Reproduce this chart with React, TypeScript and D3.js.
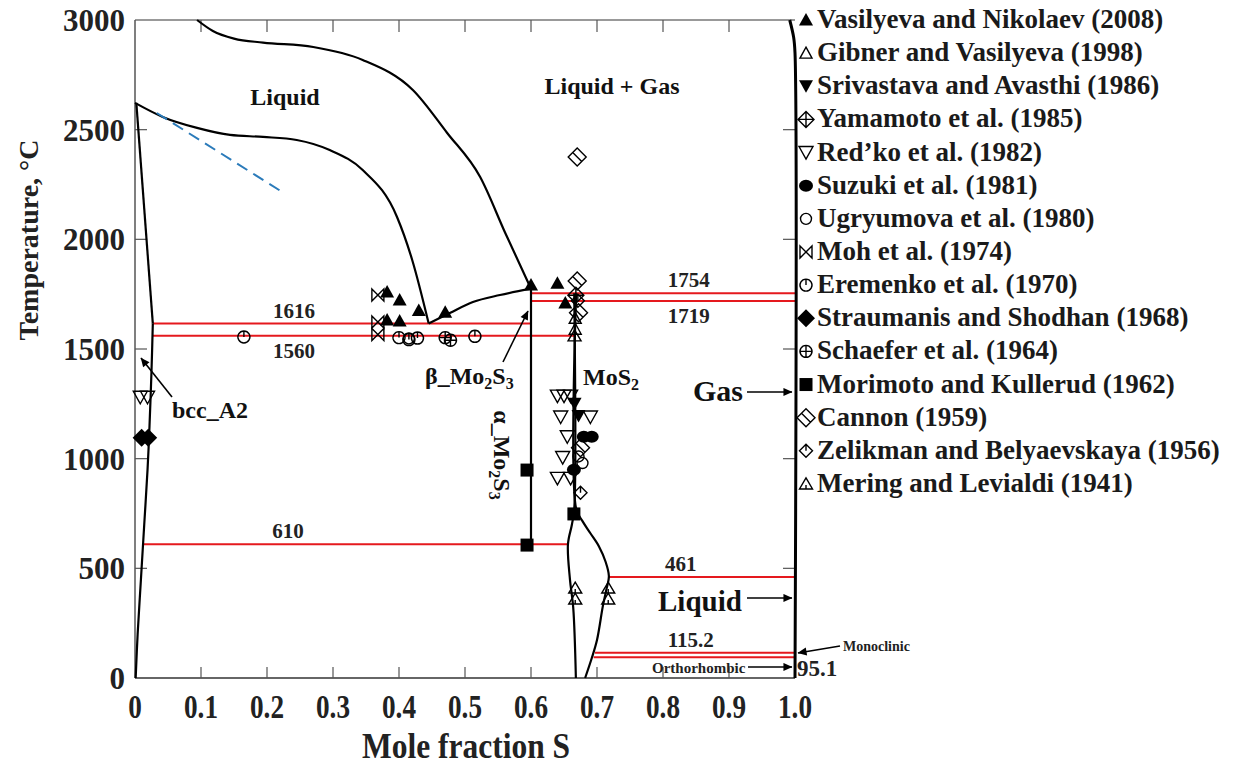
import React from "react";
import * as d3 from "d3";

// ---- data read off the Mo–S phase diagram ----
// phase boundaries: [mole fraction S, temperature °C]
const upperLiquidus = [
  [0.094, 3000], [0.118, 2950], [0.15, 2915], [0.194, 2897], [0.27, 2877], [0.345, 2818],
  [0.421, 2681], [0.473, 2485], [0.523, 2284], [0.561, 2029], [0.6, 1775],
];
const lowerLiquidus = [
  [0.0, 2622], [0.042, 2558], [0.094, 2508], [0.144, 2476], [0.194, 2467],
  [0.245, 2453], [0.295, 2407], [0.345, 2316], [0.397, 2102], [0.42, 1906], [0.445, 1616],
];
const betaLiquidus = [[0.445, 1616], [0.477, 1664], [0.512, 1714], [0.553, 1746], [0.6, 1775]];
const dashedLiquidus = [[0.033, 2576], [0.223, 2216]];
const bccSolidus = [[0.002, 2622], [0.027, 1616]];
const bccSolvus = [
  [0.027, 1616], [0.025, 1400], [0.022, 1150], [0.019, 950], [0.014, 700],
  [0.009, 450], [0.004, 200], [0.001, 0],
];
const mo2s3Line = [[0.6, 1775], [0.6, 610]];
const mos2Left = [
  [0.6655, 1754], [0.6655, 770], [0.662, 700], [0.656, 610], [0.659, 450], [0.664, 320], [0.668, 0],
];
const mos2Right = [
  [0.6685, 1754], [0.6685, 770], [0.678, 715], [0.69, 660], [0.703, 600], [0.713, 530],
  [0.718, 465], [0.714, 400], [0.709, 330], [0.7, 173], [0.692, 90], [0.682, 0],
];
const sulfurSide = [[0.992, 3000], [0.998, 2920], [1.0, 2850], [1.0, 0]];

// invariant temperatures (red lines): [T, from x, to x]
const invariants = [
  [1754, 0.6, 1.0], [1719, 0.6, 1.0], [1616, 0.027, 0.6], [1560, 0.027, 0.6655],
  [610, 0.012, 0.656], [461, 0.718, 1.0], [115.2, 0.697, 1.0], [95.1, 0.695, 1.0],
];
// labels of the invariants: [text, T, x, above(-)/below(+)]
const invariantLabels = [
  ["1754", 1754, 0.839, -1], ["1719", 1719, 0.839, 1], ["1616", 1616, 0.241, -1],
  ["1560", 1560, 0.241, 1], ["610", 610, 0.232, -1], ["461", 461, 0.827, -1],
  ["115.2", 115.2, 0.842, -1],
];

const xTicks = [0, 0.1, 0.2, 0.3, 0.4, 0.5, 0.6, 0.7, 0.8, 0.9, 1.0];
const xTickLabels = ["0", "0.1", "0.2", "0.3", "0.4", "0.5", "0.6", "0.7", "0.8", "0.9", "1.0"];
const yTicks = [0, 500, 1000, 1500, 2000, 2500, 3000];

// experimental points per source
const vasilyeva2008 = [[0.382, 1760], [0.401, 1723], [0.382, 1632], [0.401, 1628], [0.43, 1675], [0.47, 1668], [0.6, 1792], [0.64, 1800], [0.652, 1710]];
const gibner1998 = [[0.667, 1590], [0.667, 1640]];
const srivastava1986 = [[0.672, 1195], [0.666, 1250]];
const yamamoto1985 = [[0.668, 1745]];
const redko1982 = [[0.008, 1280], [0.019, 1280], [0.64, 1285], [0.65, 1285], [0.66, 1285], [0.645, 1190], [0.69, 1190], [0.655, 1100], [0.648, 1005], [0.64, 910], [0.66, 910]];
const suzuki1981 = [[0.68, 1100], [0.692, 1100], [0.665, 950]];
const ugryumova1980 = [[0.415, 1548], [0.672, 1010], [0.678, 980]];
const moh1974 = [[0.368, 1746], [0.368, 1623], [0.368, 1566]];
const eremenko1970 = [[0.165, 1555], [0.4, 1552], [0.415, 1543], [0.428, 1550], [0.515, 1558]];
const straumanis1968 = [[0.01, 1095], [0.02, 1095]];
const schaefer1964 = [[0.47, 1552], [0.478, 1540]];
const morimoto1962 = [[0.594, 948], [0.594, 606], [0.665, 748]];
const cannon1959 = [[0.67, 2375], [0.67, 1810], [0.672, 1665], [0.675, 1050]];
const zelikman1956 = [[0.675, 845], [0.671, 1720]];
const mering1941 = [[0.667, 410], [0.667, 360], [0.717, 410], [0.717, 360], [0.666, 1560]];

const sources = [
  { name: "Vasilyeva and Nikolaev (2008)", marker: "triUpFill", pts: vasilyeva2008 },
  { name: "Gibner and Vasilyeva (1998)", marker: "triUpOpen", pts: gibner1998 },
  { name: "Srivastava and Avasthi (1986)", marker: "triDownFill", pts: srivastava1986 },
  { name: "Yamamoto et al. (1985)", marker: "diamondPlus", pts: yamamoto1985 },
  { name: "Red\u2019ko et al. (1982)", marker: "triDownOpen", pts: redko1982 },
  { name: "Suzuki et al. (1981)", marker: "circleFill", pts: suzuki1981 },
  { name: "Ugryumova et al. (1980)", marker: "circleOpen", pts: ugryumova1980 },
  { name: "Moh et al. (1974)", marker: "bowtie", pts: moh1974 },
  { name: "Eremenko et al. (1970)", marker: "circleTick", pts: eremenko1970 },
  { name: "Straumanis and Shodhan (1968)", marker: "diamondFill", pts: straumanis1968 },
  { name: "Schaefer et al. (1964)", marker: "circlePlus", pts: schaefer1964 },
  { name: "Morimoto and Kullerud (1962)", marker: "squareFill", pts: morimoto1962 },
  { name: "Cannon (1959)", marker: "diamondLine", pts: cannon1959 },
  { name: "Zelikman and Belyaevskaya (1956)", marker: "diamondTick", pts: zelikman1956 },
  { name: "Mering and Levialdi (1941)", marker: "triUpMark", pts: mering1941 },
];

const SERIF = "'Liberation Serif', 'Times New Roman', serif";
const RED = "#e5191e";

const x = d3.scaleLinear().domain([0, 1]).range([135, 795]);
const y = d3.scaleLinear().domain([0, 3000]).range([678, 20]);

// boundaries that run left to right
const smooth = d3
  .line()
  .x((d) => x(d[0]))
  .y((d) => y(d[1]))
  .curve(d3.curveMonotoneX);
// boundaries that run mostly up and down
const curve = d3
  .line()
  .x((d) => x(d[0]))
  .y((d) => y(d[1]))
  .curve(d3.curveCatmullRom.alpha(0.5));

const Marker = ({ type, cx, cy }) => {
  const k = { fill: "none", stroke: "#000", strokeWidth: 1.4 };
  let el;
  switch (type) {
    case "triUpFill":
      el = <path d="M0,-7L7,5.5L-7,5.5Z" fill="#000" />;
      break;
    case "triUpOpen":
      el = <path d="M0,-6L6,5L-6,5Z" {...k} />;
      break;
    case "triDownFill":
      el = <path d="M0,6.5L7,-6L-7,-6Z" fill="#000" />;
      break;
    case "triDownOpen":
      el = <path d="M0,6.5L7,-6L-7,-6Z" {...k} />;
      break;
    case "diamondPlus":
      el = <path d="M0,-8L8,0L0,8L-8,0ZM0,-8V8M-8,0H8" {...k} />;
      break;
    case "circleFill":
      el = <ellipse rx={7} ry={6} fill="#000" />;
      break;
    case "circleOpen":
      el = <circle r={5.5} {...k} />;
      break;
    case "bowtie":
      el = <path d="M-6,-6L6,6V-6L-6,6Z" {...k} />;
      break;
    case "circleTick":
      el = <path d="M0,-6A6,6 0 1,1 -0.01,-6ZM0,-6V0" {...k} />;
      break;
    case "diamondFill":
      el = <path d="M0,-9L9,0L0,9L-9,0Z" fill="#000" />;
      break;
    case "circlePlus":
      el = <path d="M0,-6A6,6 0 1,1 -0.01,-6ZM0,-6V6M-6,0H6" {...k} />;
      break;
    case "squareFill":
      el = <rect x={-6.5} y={-6.5} width={13} height={13} fill="#000" />;
      break;
    case "diamondLine":
      el = <path d="M0,-9L9,0L0,9L-9,0ZM-4.5,-4.5L4.5,4.5" {...k} />;
      break;
    case "diamondTick":
      el = <path d="M0,-6.5L6.5,0L0,6.5L-6.5,0ZM0,-6.5V0" {...k} />;
      break;
    case "triUpMark":
      el = <path d="M0,-6L6.5,5L-6.5,5ZM0,5V1" {...k} />;
      break;
    default:
      el = null;
  }
  return <g transform={`translate(${cx},${cy})`}>{el}</g>;
};

const Arrow = ({ x1, y1, x2, y2 }) => (
  <line x1={x1} y1={y1} x2={x2} y2={y2} stroke="#000" strokeWidth={1.6} markerEnd="url(#ah)" />
);

export default function App() {
  const smoothLines = [upperLiquidus, lowerLiquidus, betaLiquidus];
  const lines = [bccSolidus, bccSolvus, mo2s3Line, mos2Left, mos2Right];
  return (
    <svg width={1235} height={767} style={{ display: "block", position: "absolute", left: 0, top: 0 }} fontFamily={SERIF} fontWeight="bold">
      <defs>
        <marker id="ah" viewBox="0 0 10 10" refX={9.5} refY={5} markerUnits="userSpaceOnUse" markerWidth={11} markerHeight={9} orient="auto">
          <path d="M0,0.5L10,5L0,9.5Z" fill="#000" />
        </marker>
      </defs>
      <rect width={1235} height={767} fill="#fff" />

      {/* frame */}
      <line x1={x(0)} x2={x(1)} y1={y(3000)} y2={y(3000)} stroke="#777" strokeWidth={1.3} />
      <line x1={x(0)} x2={x(0)} y1={y(0)} y2={y(3000)} stroke="#555" strokeWidth={1.5} />
      <line x1={x(0)} x2={x(1)} y1={y(0)} y2={y(0)} stroke="#333" strokeWidth={1.6} />

      {/* ticks */}
      {xTicks.slice(1, -1).map((t) => (
        <g key={"xt" + t} stroke="#555" strokeWidth={1.2}>
          <line x1={x(t)} x2={x(t)} y1={y(0)} y2={y(0) - 11} />
          <line x1={x(t)} x2={x(t)} y1={y(3000)} y2={y(3000) + 12} />
        </g>
      ))}
      {yTicks.slice(1, -1).map((t) => (
        <g key={"yt" + t} stroke="#555" strokeWidth={1.2}>
          <line x1={x(0)} x2={x(0) + 12} y1={y(t)} y2={y(t)} />
          <line x1={x(1)} x2={x(1) - 12} y1={y(t)} y2={y(t)} />
        </g>
      ))}

      {/* tick labels */}
      {xTicks.map((t, i) => (
        <text key={"xl" + t} transform={`translate(${x(t)},718) scale(0.8,1)`} textAnchor="middle" fontSize={34} fill="#222">
          {xTickLabels[i]}
        </text>
      ))}
      {yTicks.map((t) => (
        <text key={"yl" + t} x={125} y={y(t) + 11} textAnchor="end" fontSize={31} fill="#222">
          {t}
        </text>
      ))}

      {/* axis titles */}
      <text transform="translate(466,758) scale(0.9,1)" textAnchor="middle" fontSize={35} fill="#222">
        Mole fraction S
      </text>
      <text transform="translate(38,240) rotate(-90)" textAnchor="middle" fontSize={28} fill="#222">
        Temperature, °C
      </text>

      {/* invariant lines */}
      {invariants.map(([t, a, b]) => (
        <line key={"inv" + t} x1={x(a)} x2={x(b)} y1={y(t)} y2={y(t)} stroke={RED} strokeWidth={2} />
      ))}

      {/* phase boundaries */}
      {smoothLines.map((l, i) => (
        <path key={"sb" + i} d={smooth(l)} fill="none" stroke="#000" strokeWidth={2.2} />
      ))}
      {lines.map((l, i) => (
        <path key={"pb" + i} d={curve(l)} fill="none" stroke="#000" strokeWidth={2.2} />
      ))}
      <path d={curve(sulfurSide)} fill="none" stroke="#000" strokeWidth={3} />
      <path d={curve(dashedLiquidus)} fill="none" stroke="#2b7bba" strokeWidth={2} strokeDasharray="12,7" />

      {/* invariant labels */}
      {invariantLabels.map(([txt, t, xp, side]) => (
        <text key={"il" + txt} x={x(xp)} y={side < 0 ? y(t) - 6 : y(t) + 22} textAnchor="middle" fontSize={21} fill="#222">
          {txt}
        </text>
      ))}
      <text x={797} y={676} fontSize={23} fill="#222">95.1</text>
      <text x={843} y={651} fontSize={14} fill="#222">Monoclinic</text>
      <text x={652} y={673} fontSize={15} fill="#222">Orthorhombic</text>

      {/* phase region labels */}
      <text x={285} y={105} textAnchor="middle" fontSize={24} fill="#111">Liquid</text>
      <text x={612} y={94} textAnchor="middle" fontSize={24} fill="#111">Liquid + Gas</text>
      <text x={693} y={401} fontSize={30} fill="#111">Gas</text>
      <text x={658} y={611} fontSize={29} fill="#111">Liquid</text>
      <text x={583} y={385} fontSize={24} fill="#111">
        MoS<tspan fontSize={16} dy={5}>2</tspan>
      </text>
      <text x={425} y={384} fontSize={24} fill="#111">
        β_Mo<tspan fontSize={16} dy={5}>2</tspan>
        <tspan dy={-5}>S</tspan>
        <tspan fontSize={16} dy={5}>3</tspan>
      </text>
      <text transform="translate(494,455) rotate(90)" textAnchor="middle" fontSize={24} fill="#111">
        α_Mo<tspan fontSize={16} dy={5}>2</tspan>
        <tspan dy={-5}>S</tspan>
        <tspan fontSize={16} dy={5}>3</tspan>
      </text>
      <text x={172} y={418} fontSize={24} fill="#111">bcc_A2</text>

      {/* arrows */}
      <Arrow x1={172} y1={397} x2={141} y2={358} />
      <Arrow x1={503} y1={362} x2={528} y2={311} />
      <Arrow x1={747} y1={392} x2={792} y2={392} />
      <Arrow x1={747} y1={598} x2={792} y2={598} />
      <Arrow x1={840} y1={646} x2={798} y2={653} />
      <Arrow x1={748} y1={667} x2={792} y2={667} />

      {/* experimental points */}
      {sources.map((s) =>
        s.pts.map((p, j) => <Marker key={s.name + j} type={s.marker} cx={x(p[0])} cy={y(p[1])} />)
      )}

      {/* legend */}
      {sources.map((s, i) => {
        const cy = 20 + i * 33.14;
        return (
          <g key={"lg" + i}>
            <Marker type={s.marker} cx={806} cy={cy} />
            <text x={817} y={cy + 8} fontSize={27} fill="#1a1a1a">
              {s.name}
            </text>
          </g>
        );
      })}
    </svg>
  );
}
